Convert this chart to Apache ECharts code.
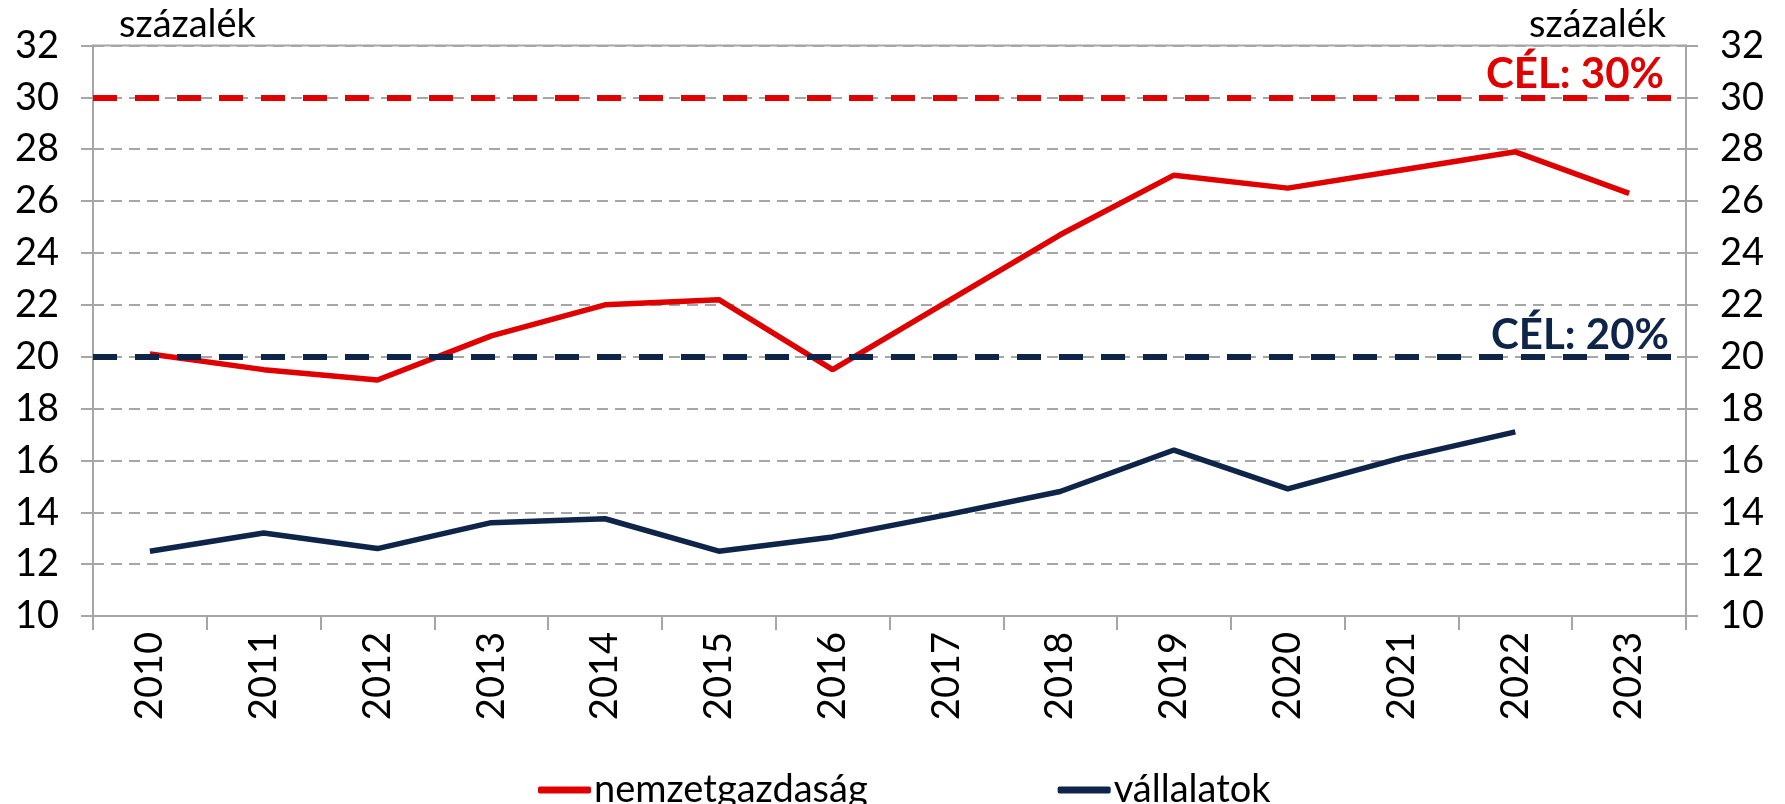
<!DOCTYPE html>
<html>
<head>
<meta charset="utf-8">
<script src="https://cdn.jsdelivr.net/npm/echarts@6/dist/echarts.min.js"></script>
<style>
  html, body { margin: 0; padding: 0; background: #fff; }
  #chart { width: 1785px; height: 804px; }
</style>
</head>
<body>
<div id="chart"></div>
<script>
const years = ['2010', '2011', '2012', '2013', '2014', '2015', '2016', '2017', '2018', '2019', '2020', '2021', '2022', '2023']
const nemzetgazdasag = [20.1, 19.5, 19.1, 20.8, 22.0, 22.2, 19.5, 22.1, 24.7, 27.0, 26.5, 27.2, 27.9, 26.3]
const vallalatok = [12.5, 13.2, 12.6, 13.6, 13.75, 12.5, 13.05, 13.9, 14.8, 16.4, 14.9, 16.1, 17.1, null]
const targetNemzet = 30
const targetVall = 20
const targetLabels = ['CÉL: 30%', 'CÉL: 20%']

const RED = '#e00000'
const NAVY = '#0e2449'
const GRAY = '#a6a6a6'
const FONT = 'Lato'

const chart = echarts.init(document.getElementById('chart'))

const yAxisBase = (side) => ({
  type: 'value',
  position: side,
  min: 10,
  max: 32,
  interval: 2,
  name: 'százalék',
  nameLocation: 'end',
  nameGap: 2,
  nameTextStyle: {
    fontFamily: FONT,
    fontSize: 38,
    color: '#000',
    align: side === 'left' ? 'left' : 'right',
    padding: side === 'left' ? [0, 0, 0, 26] : [0, 20, 0, 0]
  },
  axisLine: { show: true, lineStyle: { color: GRAY, width: 2 } },
  axisTick: { show: true, length: 12, lineStyle: { color: GRAY, width: 2 } },
  axisLabel: { fontFamily: FONT, fontSize: 38, color: '#000', margin: 34 },
  splitLine: {
    show: side === 'left',
    lineStyle: { color: GRAY, width: 2, type: [11, 7] }
  }
})

const option = {
  animation: false,
  backgroundColor: '#fff',
  grid: {
    left: 93,
    right: 99,
    top: 45.5,
    bottom: 188,
    show: true,
    borderColor: GRAY,
    borderWidth: 2
  },
  legend: {
    left: 533,
    top: 766,
    itemWidth: 53,
    itemHeight: 7,
    itemGap: 190,
    icon: 'roundRect',
    textStyle: { fontFamily: FONT, fontSize: 38, color: '#000', padding: [0, 0, 0, -2] },
    data: ['nemzetgazdaság', 'vállalatok']
  },
  xAxis: {
    type: 'category',
    data: years,
    boundaryGap: true,
    axisLine: { show: true, lineStyle: { color: GRAY, width: 2 } },
    axisTick: { show: true, length: 14, alignWithLabel: false, lineStyle: { color: GRAY, width: 2 } },
    axisLabel: { rotate: 90, fontFamily: FONT, fontSize: 38, color: '#000', margin: 16, interval: 0 },
    splitLine: { show: false }
  },
  yAxis: [yAxisBase('left'), yAxisBase('right')],
  series: [
    {
      name: 'nemzetgazdaság',
      type: 'line',
      data: nemzetgazdasag,
      showSymbol: false,
      symbol: 'none',
      itemStyle: { color: RED },
      lineStyle: { color: RED, width: 5.5 },
      z: 3,
      markLine: {
        silent: true,
        symbol: 'none',
        lineStyle: { color: RED, width: 6, type: [24, 18] },
        label: {
          show: true,
          position: 'insideEndTop',
          formatter: targetLabels[0],
          fontFamily: FONT,
          fontSize: 42,
          fontWeight: 'bold',
          color: RED,
          distance: [22, 2]
        },
        data: [{ yAxis: targetNemzet }]
      }
    },
    {
      name: 'vállalatok',
      type: 'line',
      data: vallalatok,
      showSymbol: false,
      symbol: 'none',
      itemStyle: { color: NAVY },
      lineStyle: { color: NAVY, width: 5.5 },
      z: 2,
      markLine: {
        silent: true,
        symbol: 'none',
        lineStyle: { color: NAVY, width: 6, type: [24, 18] },
        label: {
          show: true,
          position: 'insideEndTop',
          formatter: targetLabels[1],
          fontFamily: FONT,
          fontSize: 42,
          fontWeight: 'bold',
          color: NAVY,
          distance: [17, 0]
        },
        data: [{ yAxis: targetVall }]
      }
    }
  ]
}

chart.setOption(option)
</script>
</body>
</html>
